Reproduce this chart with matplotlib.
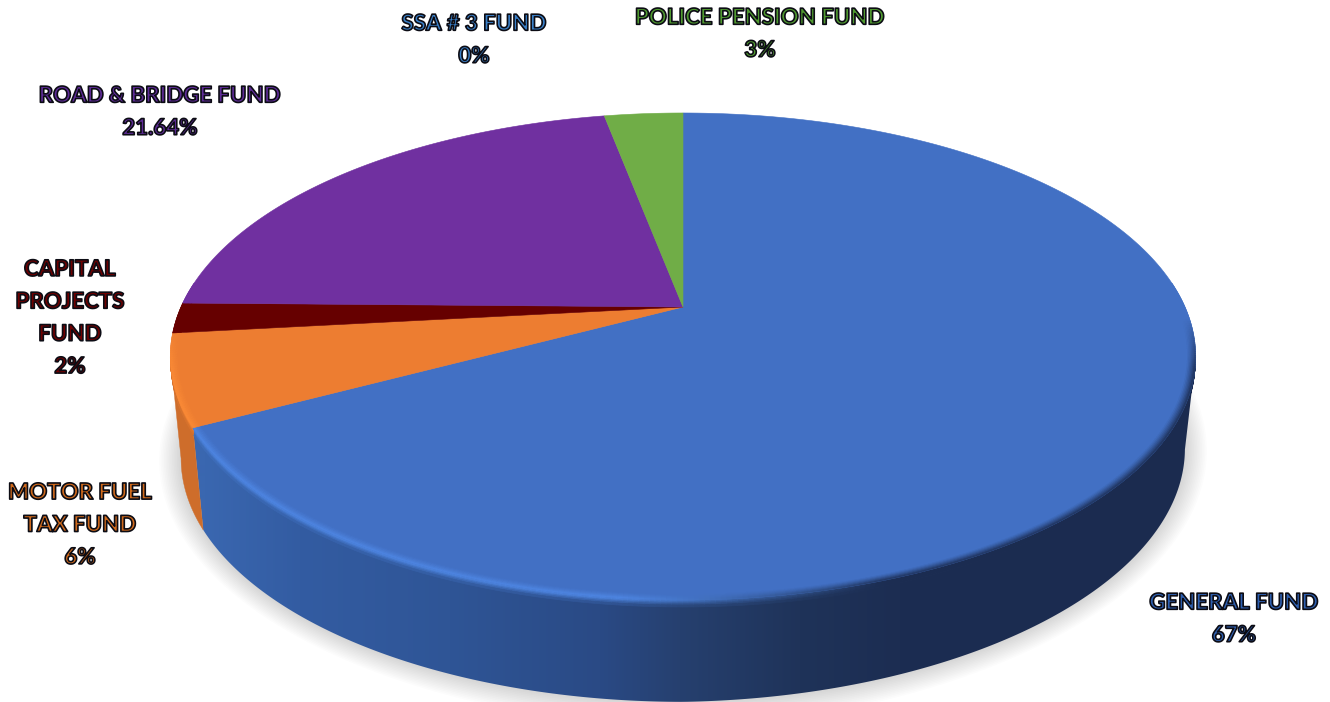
import numpy as np
import matplotlib
matplotlib.use("Agg")
import matplotlib.pyplot as plt
from matplotlib.collections import PolyCollection
from matplotlib.colors import to_rgb
from matplotlib.patches import Polygon
import matplotlib.patheffects as pe

# Fund shares in percent, clockwise from twelve o'clock
funds = ["GENERAL FUND", "MOTOR FUEL\nTAX FUND", "CAPITAL\nPROJECTS\nFUND",
         "ROAD & BRIDGE FUND", "SSA # 3 FUND", "POLICE PENSION FUND"]
shares = [67, 6, 2, 21.64, 0, 3]

face_colors = ["#4270c4", "#ed7d31", "#660000", "#7030a0", "#4a86c8", "#70ad47"]
glow_colors = ["#5089e6", "#fc8c37", "#7a0000", "#8038b8", "#4a86c8", "#80c050"]
text_colors = ["#2f60b0", "#d06a1c", "#6e0000", "#5f2c98", "#3a80c8", "#509a30"]
label_xy = [(1234, 619), (80, 525), (70, 318), (160, 112), (474, 40), (760, 34)]

# Side-wall shading stops by horizontal position
wall_x = [205, 300, 450, 600, 680, 800, 900, 1200]
wall_blue = ["#3a67b0", "#335ca2", "#2f5596", "#2a4a85", "#26406f", "#1f3359", "#1c2d52", "#1b2b4f"]

# Projection of the unit disc onto the page (pixel coordinates)
CX, CY, A, B, K = 683.0, 307.0, 502.0, 233.4, 0.203
DEPTH, TAPER = 102.0, 0.979


def top_rim(theta, r=1.0):
    u, v = r * np.sin(theta), r * np.cos(theta)
    w = 1 + K * v
    return CX + A * u / w, CY - B * v / w


def low_rim(theta):
    x, y = top_rim(theta)
    return CX + (x - CX) * TAPER, y + DEPTH - 10 * np.abs(np.sin(theta)) * (np.sin(theta) > 0)


def mix(a, b, t):
    a = to_rgb(a) if isinstance(a, str) else a
    b = to_rgb(b) if isinstance(b, str) else b
    return tuple((1 - t) * p + t * q for p, q in zip(a, b))


def wall_color(i, x):
    if i == 0:
        rgb = np.array([to_rgb(c) for c in wall_blue])
        return tuple(np.interp(x, wall_x, rgb[:, n]) for n in range(3))
    return mix(face_colors[i], "#000000", 0.13)


def edge_color(i, x, v):
    wall = wall_color(i, x)
    glow = float(np.clip((880 - x) / 260, 0, 1))
    edge = mix(wall, glow_colors[i], glow)
    front = float(np.clip((-0.05 - v) / 0.2, 0, 1))
    return mix(face_colors[i], edge, front)


fig = plt.figure(figsize=(13.3, 7.02), dpi=100, facecolor="white")
ax = fig.add_axes([0, 0, 1, 1])
ax.axis("off")

total = sum(shares)
stops = np.concatenate([[0], np.cumsum(shares)]) / total * 2 * np.pi

# Soft drop shadow under the disc
ring = np.linspace(0, 2 * np.pi, 361)
lx, ly = low_rim(ring)
for grow in np.linspace(22, 1, 14):
    dx, dy = lx - CX, ly - 450
    n = np.hypot(dx, dy)
    ax.fill(lx + dx / n * grow, ly + dy / n * grow + grow * 0.1,
            color="black", alpha=0.011, lw=0, zorder=1)

# Side wall, limited to the part facing the viewer: the silhouette starts at the
# rim's widest point (v = -K): gradient for the large slice, flat fill for the others
for i in range(len(shares)):
    if shares[i] == 0:
        continue
    th = np.linspace(stops[i], stops[i + 1], 400)
    th = th[np.cos(th) < -K]
    if th.size < 2:
        continue
    xt, yt = top_rim(th)
    xl, yl = low_rim(th)
    outline = np.column_stack([np.r_[xt, xl[::-1]], np.r_[yt, yl[::-1]]])
    if i == 0:
        xs = np.arange(0, 1330)
        rgb = np.array([to_rgb(c) for c in wall_blue])
        strip = np.stack([np.interp(xs, wall_x, rgb[:, n]) for n in range(3)], axis=-1)[None, :, :]
        img = ax.imshow(strip, extent=(0, 1330, 702, 0), aspect="auto",
                        interpolation="bilinear", zorder=2)
        img.set_clip_path(Polygon(outline, transform=ax.transData))
    else:
        ax.fill(outline[:, 0], outline[:, 1], color=wall_color(i, 0), lw=0.3, zorder=2)

ax.set_xlim(0, 1330)
ax.set_ylim(702, 0)

# Soft transition at the top of the wall
polys, cols = [], []
levels = [0, 0.012, 0.024, 0.036, 0.05, 0.07]
for i in range(len(shares)):
    if shares[i] == 0:
        continue
    n = max(2, int((stops[i + 1] - stops[i]) / np.radians(0.5)))
    th = np.linspace(stops[i], stops[i + 1], n + 1)
    for a, b in zip(th[:-1], th[1:]):
        vm = np.cos((a + b) / 2)
        if vm > -K:
            continue
        xa, ya = top_rim(a)
        xb, yb = top_rim(b)
        xc, yc = low_rim(a)
        xd, yd = low_rim(b)
        xm = (xa + xb) / 2
        for z0, z1 in zip(levels[:-1], levels[1:]):
            polys.append([(xa + (xc - xa) * z0, ya + (yc - ya) * z0),
                          (xb + (xd - xb) * z0, yb + (yd - yb) * z0),
                          (xb + (xd - xb) * z1, yb + (yd - yb) * z1),
                          (xa + (xc - xa) * z1, ya + (yc - ya) * z1)])
            t = min(1.0, z0 / 0.06)
            cols.append(mix(edge_color(i, xm, vm), wall_color(i, xm), t))
ax.add_collection(PolyCollection(polys, facecolors=cols, edgecolors=cols, linewidths=0.5, zorder=2.5))

# Top face wedges
for i in range(len(shares)):
    if shares[i] == 0:
        continue
    th = np.linspace(stops[i], stops[i + 1], 240)
    x, y = top_rim(th)
    ax.fill(np.r_[CX, x], np.r_[CY, y], color=face_colors[i], lw=0.4, zorder=3)

# Bevel band just inside the rim
polys, cols = [], []
radii = np.linspace(0.982, 1.0, 8)
for i in range(len(shares)):
    if shares[i] == 0:
        continue
    n = max(2, int((stops[i + 1] - stops[i]) / np.radians(0.5)))
    th = np.linspace(stops[i], stops[i + 1], n + 1)
    for a, b in zip(th[:-1], th[1:]):
        vm = np.cos((a + b) / 2)
        if vm > 0.1:
            continue
        xm = (top_rim(a)[0] + top_rim(b)[0]) / 2
        for r0, r1 in zip(radii[:-1], radii[1:]):
            xa0, ya0 = top_rim(a, r0)
            xb0, yb0 = top_rim(b, r0)
            xa1, ya1 = top_rim(a, r1)
            xb1, yb1 = top_rim(b, r1)
            polys.append([(xa0, ya0), (xb0, yb0), (xb1, yb1), (xa1, ya1)])
            t = (r0 - radii[0]) / (radii[-1] - radii[0])
            cols.append(mix(face_colors[i], edge_color(i, xm, vm), t ** 1.3))
ax.add_collection(PolyCollection(polys, facecolors=cols, edgecolors=cols, linewidths=0.4, zorder=4))

# Outlined data labels
for name, value, colour, (tx, ty) in zip(funds, shares, text_colors, label_xy):
    ax.text(tx, ty, f"{name}\n{value:g}%", ha="center", va="center", family="Lato",
            fontweight="black", fontsize=16.0, color=colour, linespacing=1.67, zorder=6,
            path_effects=[pe.Stroke(linewidth=1.2, foreground="#0c0c14")])

fig.savefig("out.png", dpi=100, facecolor="white")
